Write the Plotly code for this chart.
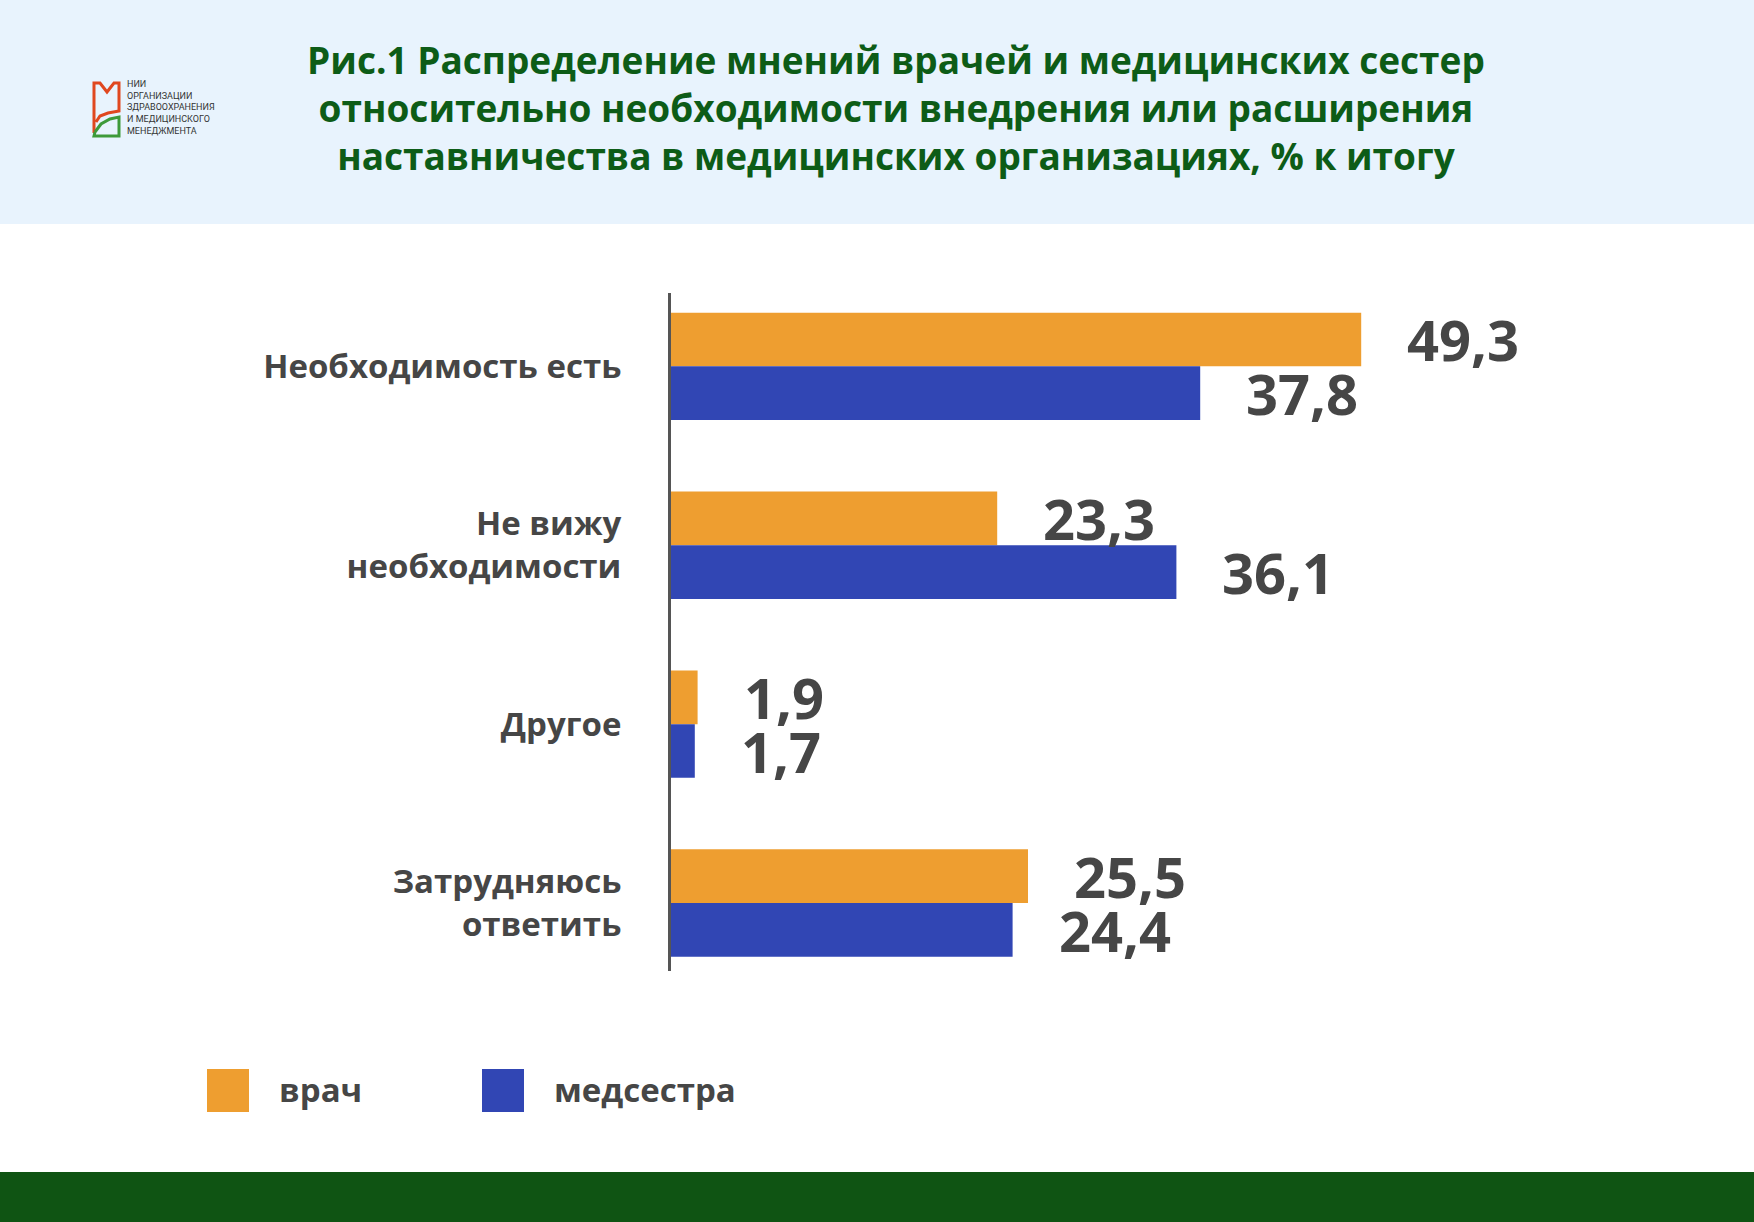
import plotly.graph_objects as go

# data
categories = ["Необходимость есть", "Не вижу<br>необходимости", "Другое", "Затрудняюсь<br>ответить"]
series_names = ["врач", "медсестра"]
doctor = [49.3, 23.3, 1.9, 25.5]
nurse = [37.8, 36.1, 1.7, 24.4]
colors = ["#EE9E30", "#3146B4"]
title_lines = [
    "Рис.1 Распределение мнений врачей и медицинских сестер",
    "относительно необходимости внедрения или расширения",
    "наставничества в медицинских организациях, % к итогу",
]
logo_lines = ["НИИ", "ОРГАНИЗАЦИИ", "ЗДРАВООХРАНЕНИЯ", "И МЕДИЦИНСКОГО", "МЕНЕДЖМЕНТА"]

W, H = 1754, 1222
L, R, T, B = 671, 1600, 293, 971
FONT = "Open Sans"
GRAY = "#464646"


def px(x):
    return (x - L) / (R - L)


def py(y):
    return (B - y) / (B - T)


def path(points):
    s = "M " + " L ".join(f"{px(a):.5f},{py(b):.5f}" for a, b in points)
    return s


fig = go.Figure()
for name, vals, col in zip(series_names, [doctor, nurse], colors):
    fig.add_trace(go.Bar(y=categories, x=vals, name=name, orientation="h",
                         marker=dict(color=col, line=dict(width=0)), showlegend=False))

# value labels
anns = []
for vals, shift in [(doctor, 27), (nurse, -27)]:
    for c, v in zip(categories, vals):
        anns.append(dict(x=v, y=c, xref="x", yref="y", text=f"{v:.1f}".replace(".", ","),
                         showarrow=False, xanchor="left", yanchor="middle", xshift=44, yshift=shift,
                         font=dict(family=FONT, size=56, color=GRAY, weight=700)))

# title
anns.append(dict(x=px(896), y=py(107), xref="paper", yref="paper", text="<br>".join(title_lines),
                 showarrow=False, xanchor="center", yanchor="middle", align="center",
                 font=dict(family=FONT, size=37, color="#0D5C17", weight=700)))

# logo text
anns.append(dict(x=px(125), y=py(107), xref="paper", yref="paper", text="<br>".join(logo_lines),
                 showarrow=False, xanchor="left", yanchor="middle", align="left",
                 font=dict(family="Liberation Sans Narrow, Roboto", size=9, color="#333333")))

shapes = [
    dict(type="rect", xref="paper", yref="paper", x0=px(0), x1=px(W), y0=py(224), y1=py(0),
         fillcolor="#E8F3FD", line=dict(width=0), layer="below"),
    dict(type="rect", xref="paper", yref="paper", x0=px(0), x1=px(W), y0=py(1222), y1=py(1172),
         fillcolor="#0F5413", line=dict(width=0), layer="below"),
    # logo
    dict(type="path", xref="paper", yref="paper",
         path=path([(94, 133), (94, 83), (100, 83), (107, 92), (114, 83), (119, 83), (119, 111),
                    (108, 113), (100, 116), (96, 122)]),
         line=dict(color="#E0471F", width=3)),
    dict(type="path", xref="paper", yref="paper",
         path=path([(95, 132), (101, 124), (110, 119), (119, 117), (119, 136), (94, 136), (95, 132)]),
         line=dict(color="#3E9A3A", width=3)),
]

# legend
leg_x = [207, 482]
for name, col, x0 in zip(series_names, colors, leg_x):
    shapes.append(dict(type="rect", xref="paper", yref="paper", x0=px(x0), x1=px(x0 + 42),
                       y0=py(1112), y1=py(1069), fillcolor=col, line=dict(width=0)))
    anns.append(dict(x=px(x0 + 70), y=py(1089), xref="paper", yref="paper", text=name,
                     showarrow=False, xanchor="left", yanchor="middle",
                     font=dict(family=FONT, size=33, color=GRAY, weight=700)))

fig.update_layout(
    width=W, height=H,
    barmode="group", bargap=0.4, bargroupgap=0,
    paper_bgcolor="white", plot_bgcolor="white",
    margin=dict(l=L, r=W - R, t=T, b=H - B, pad=0),
    annotations=anns, shapes=shapes,
    xaxis=dict(range=[0, (R - L) / 14.0], visible=False, showgrid=False, zeroline=False),
    yaxis=dict(type="category", categoryarray=categories, range=[3.38, -0.41],
               showline=True, linecolor="#555555", linewidth=3, showgrid=False, ticks="",
               ticklabelstandoff=40,
               tickfont=dict(family=FONT, size=33, color=GRAY, weight=700)),
)

fig.write_html("out.html", config={"displayModeBar": False},
               post_script="document.body.style.margin='0';")
